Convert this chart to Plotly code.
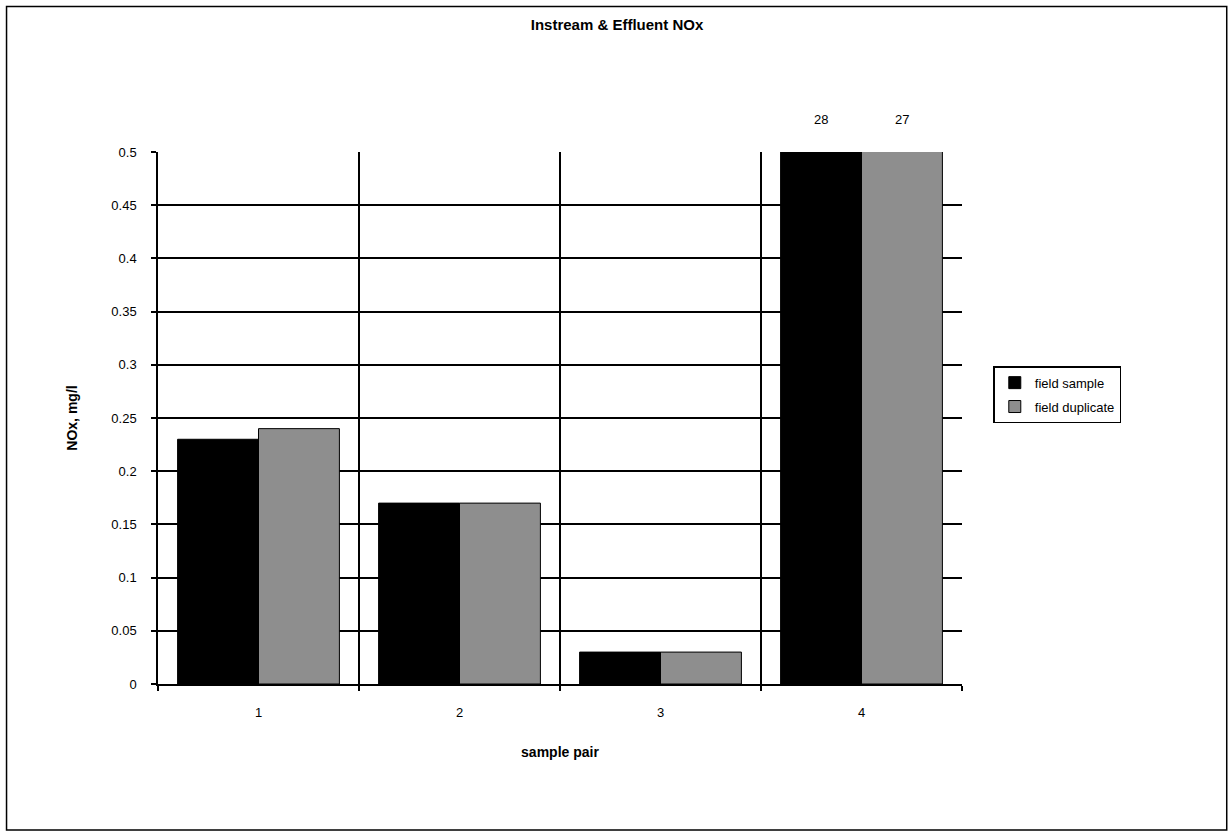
import plotly.graph_objects as go

categories = ["1", "2", "3", "4"]
field_sample = [0.23, 0.17, 0.03, 28]
field_duplicate = [0.24, 0.17, 0.03, 27]
y_ticks = [0, 0.05, 0.1, 0.15, 0.2, 0.25, 0.3, 0.35, 0.4, 0.45, 0.5]
y_tick_labels = ["0", "0.05", "0.1", "0.15", "0.2", "0.25", "0.3", "0.35", "0.4", "0.45", "0.5"]
y_max = 0.5

FONT = "Arial, Liberation Sans, sans-serif"

fig = go.Figure()
fig.add_trace(go.Bar(
    name="field sample", x=categories, y=field_sample, legendgroup="a",
    marker=dict(color="#000000", line=dict(color="#000000", width=1)),
))
fig.add_trace(go.Bar(
    name="field duplicate", x=categories, y=field_duplicate, legendgroup="b",
    marker=dict(color="#8e8e8e", line=dict(color="#000000", width=1)),
))

# labels for the off-scale values
annotations = []
for i, (a, b) in enumerate(zip(field_sample, field_duplicate)):
    if a > y_max:
        annotations.append(dict(x=i, y=y_max, xref="x", yref="y", text=str(a),
                                showarrow=False, xshift=-40.5, yshift=33, yanchor="middle",
                                font=dict(family=FONT, size=13, color="#000")))
    if b > y_max:
        annotations.append(dict(x=i, y=y_max, xref="x", yref="y", text=str(b),
                                showarrow=False, xshift=40.5, yshift=33, yanchor="middle",
                                font=dict(family=FONT, size=13, color="#000")))

W, H = 1231, 832
L, T, R, B = 157.5, 151.7, 961.7, 684
pw, ph = R - L, B - T

def px(x):
    return (x - L) / pw

def py(y):
    return (B - y) / ph

fig.update_layout(
    width=W, height=H,
    margin=dict(l=L, r=W - R, t=T, b=H - B),
    paper_bgcolor="white", plot_bgcolor="white",
    font=dict(family=FONT, size=13, color="#000"),
    barmode="group", bargap=0.195, bargroupgap=0,
    title=dict(text="<b>Instream & Effluent NOx</b>", x=617 / W, xanchor="center",
               xref="container", y=1 - 25 / H, yanchor="middle",
               font=dict(family=FONT, size=15, color="#000")),
    annotations=annotations,
    legend=dict(x=px(993), y=py(366), xanchor="left", yanchor="top",
                bordercolor="#000", borderwidth=1.5, bgcolor="white",
                font=dict(family=FONT, size=13, color="#000"),
                tracegroupgap=4, itemwidth=30),
    showlegend=True,
    shapes=[dict(type="rect", xref="paper", yref="paper",
                 x0=px(6), x1=px(1226.5), y0=py(830), y1=py(6),
                 line=dict(color="#000", width=1.5), fillcolor="rgba(0,0,0,0)", layer="below")],
)

fig.update_xaxes(
    type="category", tickson="boundaries", range=[-0.5, len(categories) - 0.5],
    showgrid=True, gridcolor="#000", gridwidth=1.5,
    showline=True, linecolor="#000", linewidth=1.5,
    ticks="outside", ticklen=5, tickwidth=1.5, tickcolor="#000",
    tickfont=dict(family=FONT, size=13), ticklabelstandoff=16,
    title=dict(text="<b>sample pair</b>", standoff=28, font=dict(family=FONT, size=14)),
    zeroline=False,
)
fig.update_yaxes(
    range=[0, y_max], tickvals=y_ticks, ticktext=y_tick_labels,
    showgrid=True, gridcolor="#000", gridwidth=1.5,
    showline=True, linecolor="#000", linewidth=1.5,
    ticks="outside", ticklen=5, tickwidth=1.5, tickcolor="#000",
    tickfont=dict(family=FONT, size=13), ticklabelstandoff=12,
    title=dict(text="<b>NOx, mg/l</b>", standoff=30, font=dict(family=FONT, size=14)),
    zeroline=False,
)

fig.write_html("out.html", config={"displayModeBar": False},
               post_script="document.body.style.margin='0';")
